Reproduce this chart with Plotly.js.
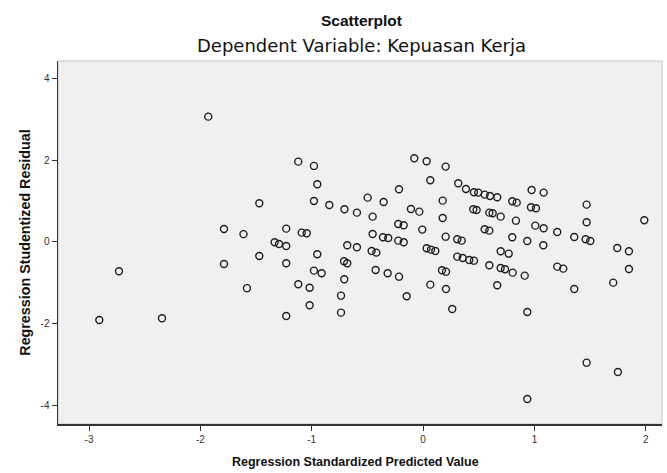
<!DOCTYPE html>
<html>
<head>
<meta charset="utf-8">
<script src="https://cdn.plot.ly/plotly-3.0.1.min.js"></script>
<style>html,body{margin:0;padding:0;background:#fff;}#chart{width:667px;height:473px;}</style>
</head>
<body>
<div id="chart"></div>
<script>
// Regression Standardized Predicted Value
const predicted = [
  -1.929, -1.788, -1.613, -2.731, -2.908, -2.345, -1.788, -1.582, -1.121, -0.980,
  -0.950, -1.471, -0.980, -0.842, -0.706, -1.229, -1.090, -1.045, -1.333, -1.294,
  -1.229, -0.681, -1.471, -1.229, -0.950, -0.980, -0.911, -0.710, -0.681, -0.708,
  -1.121, -1.019, -0.737, -1.019, -0.737, -1.229, -0.079, 0.032, 0.203, 0.065,
  -0.216, -0.498, -0.354, 0.176, -0.594, -0.109, -0.034, -0.453, 0.176, -0.223,
  -0.174, -0.007, -0.453, 0.203, -0.360, -0.313, -0.223, -0.174, -0.594, -0.462,
  -0.420, 0.032, 0.071, 0.110, -0.426, -0.318, -0.216, 0.170, 0.206, 0.065,
  0.206, -0.147, 0.262, 0.316, 0.385, 0.457, 0.496, 0.553, 0.601, 0.666,
  0.801, 0.841, 0.975, 1.083, 0.451, 0.481, 0.595, 0.625, 0.697, 0.969,
  1.014, 0.834, 1.008, 1.083, 1.205, 0.553, 0.595, 0.307, 0.347, 0.801,
  0.936, 1.080, 0.697, 0.769, 0.307, 0.356, 0.415, 0.457, 0.595, 0.697,
  0.736, 0.805, 0.913, 1.205, 1.259, 0.666, 0.936, 1.469, 1.469, 1.987,
  1.358, 1.460, 1.502, 1.744, 1.849, 1.849, 1.708, 1.358, 1.469, 1.750,
  0.936
];
// Regression Studentized Residual
const residual = [
  3.061, 0.318, 0.191, -0.716, -1.906, -1.864, -0.538, -1.129, 1.962, 1.857,
  1.410, 0.946, 1.002, 0.904, 0.799, 0.325, 0.227, 0.213, -0.007, -0.049,
  -0.098, -0.081, -0.342, -0.520, -0.301, -0.701, -0.765, -0.472, -0.520, -0.911,
  -1.033, -1.117, -1.312, -1.547, -1.727, -1.808, 2.045, 1.972, 1.840, 1.507,
  1.288, 1.082, 0.977, 1.009, 0.716, 0.806, 0.740, 0.618, 0.586, 0.440,
  0.408, 0.301, 0.195, 0.129, 0.115, 0.098, 0.032, -0.007, -0.129, -0.220,
  -0.261, -0.154, -0.188, -0.220, -0.684, -0.765, -0.848, -0.691, -0.726, -1.043,
  -1.148, -1.327, -1.637, 1.434, 1.295, 1.214, 1.205, 1.156, 1.124, 1.092,
  0.994, 0.960, 1.270, 1.205, 0.799, 0.782, 0.716, 0.701, 0.618, 0.848,
  0.823, 0.520, 0.398, 0.335, 0.244, 0.310, 0.276, 0.066, 0.032, 0.115,
  0.024, -0.081, -0.227, -0.286, -0.359, -0.391, -0.440, -0.457, -0.569, -0.635,
  -0.667, -0.750, -0.823, -0.603, -0.652, -1.058, -1.710, 0.911, 0.481, 0.530,
  0.122, 0.066, 0.024, -0.147, -0.227, -0.660, -0.994, -1.148, -2.949, -3.176,
  -3.836
];
const xTickVals = [-3, -2, -1, 0, 1, 2];
const xTickText = ['-3', '-2', '-1', '0', '1', '2'];
const yTickVals = [-4, -2, 0, 2, 4];
const yTickText = ['-4', '-2', '0', '2', '4'];

const font = 'Liberation Sans, Arial, sans-serif';
const wideFont = 'DejaVu Sans, Verdana, sans-serif';

const trace = {
  type: 'scatter',
  mode: 'markers',
  x: predicted,
  y: residual,
  marker: {
    symbol: 'circle-open',
    size: 7,
    color: '#1e1e1e',
    line: {width: 1.4, color: '#1e1e1e'}
  },
  hoverinfo: 'x+y'
};

const layout = {
  width: 667,
  height: 473,
  margin: {l: 58, r: 5, t: 61, b: 49},
  paper_bgcolor: '#ffffff',
  plot_bgcolor: '#f0f0f0',
  showlegend: false,
  font: {family: font, size: 10, color: '#222'},
  annotations: [{
    text: '<b>Scatterplot</b>',
    xref: 'paper', yref: 'paper',
    x: 0.503, y: (424 - 20) / 363,
    xanchor: 'center', yanchor: 'middle',
    showarrow: false,
    font: {family: font, size: 15.5, color: '#111'}
  }, {
    text: 'Dependent Variable: Kepuasan Kerja',
    xref: 'paper', yref: 'paper',
    x: 0.503, y: (424 - 45) / 363,
    xanchor: 'center', yanchor: 'middle',
    showarrow: false,
    font: {family: wideFont, size: 18, color: '#111'}
  }, {
    text: '<b>Regression Standardized Predicted Value</b>',
    xref: 'paper', yref: 'paper',
    x: (355.5 - 58) / 604, y: (424 - 462) / 363,
    xanchor: 'center', yanchor: 'middle',
    showarrow: false,
    font: {family: font, size: 12.5, color: '#111'}
  }],
  xaxis: {
    range: [-3.279, 2.146],
    tickvals: xTickVals,
    ticktext: xTickText,
    ticks: 'outside',
    ticklen: 5,
    tickwidth: 1,
    tickcolor: '#333',
    tickfont: {family: font, size: 10, color: '#333'},
    showgrid: false,
    zeroline: false,
    showline: true,
    linecolor: '#333',
    linewidth: 1.5,
    mirror: false
  },
  yaxis: {
    range: [-4.447, 4.42],
    tickvals: yTickVals,
    ticktext: yTickText,
    ticks: 'outside',
    ticklen: 5,
    tickwidth: 1,
    tickcolor: '#333',
    tickfont: {family: font, size: 10, color: '#333'},
    showgrid: false,
    zeroline: false,
    showline: true,
    linecolor: '#333',
    linewidth: 1.5,
    title: {
      text: '<b>Regression Studentized Residual</b>',
      font: {family: font, size: 14.3, color: '#111'},
      standoff: 6
    }
  },
  shapes: [{
    type: 'rect', xref: 'paper', yref: 'paper',
    x0: 0, x1: 1, y0: 0, y1: 1,
    line: {color: '#c8c8c8', width: 1},
    layer: 'below'
  }]
};

Plotly.newPlot('chart', [trace], layout, {displayModeBar: false, staticPlot: true});
</script>
</body>
</html>
